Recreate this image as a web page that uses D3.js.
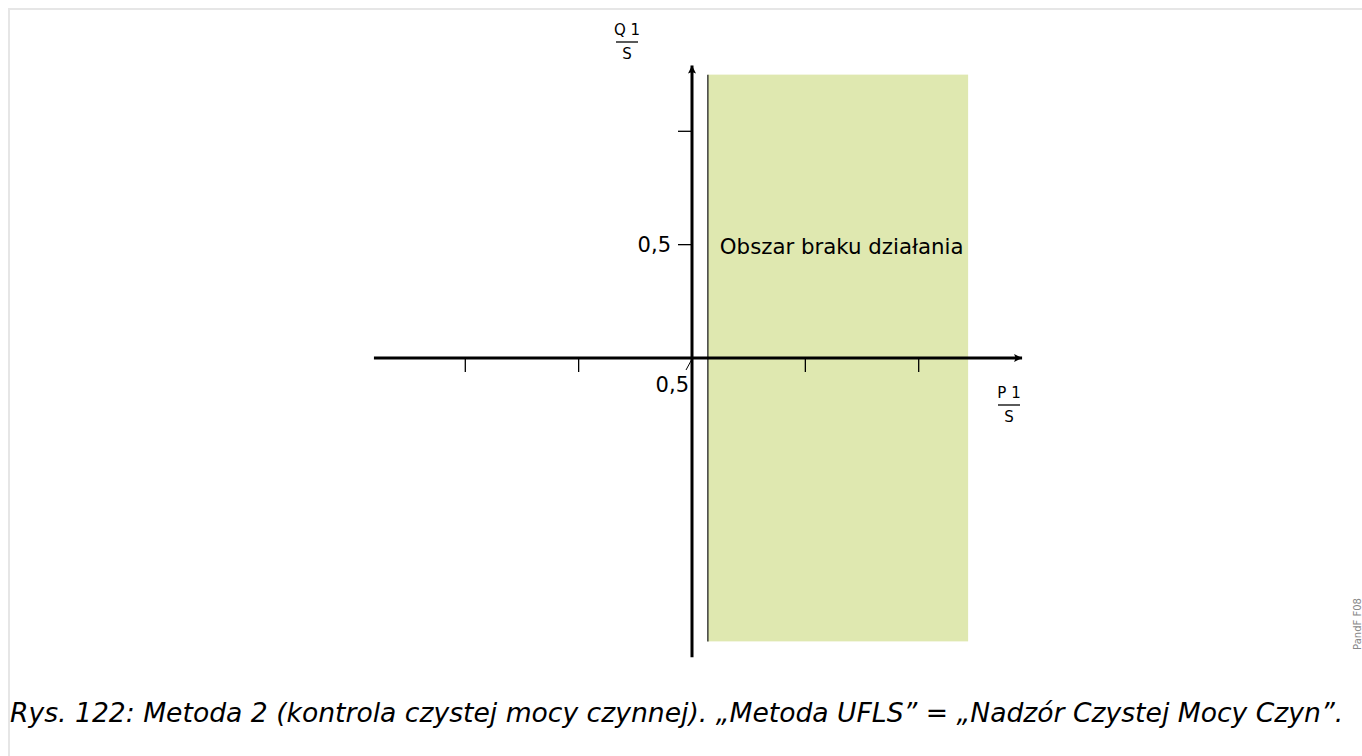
<!DOCTYPE html>
<html>
<head>
<meta charset="utf-8">
<script src="https://cdn.jsdelivr.net/npm/d3@7"></script>
<style>
html,body{margin:0;padding:0;background:#fff;}
svg{display:block;}
</style>
</head>
<body>
<svg id="chart" width="1362" height="756"></svg>
<script>
// Data
const xTicks = [-1, -0.5, 0.5, 1];
const yTicks = [0.5, 1];
const yTickLabels = ["0,5", ""];
const xAxisExtent = [-1.403, 1.456];
const yAxisExtent = [-1.32, 1.29];
const regionX = [0.07, 1.218];
const regionY = [-1.25, 1.25];
const regionLabel = "Obszar braku działania";
const originLabel = "0,5";
const caption = "Rys. 122: Metoda 2 (kontrola czystej mocy czynnej). „Metoda UFLS” = „Nadzór Czystej Mocy Czyn”.";
const watermark = "PandF F08";

const svg = d3.select("#chart");
const font = "DejaVu Sans, Verdana, sans-serif";

// frame
svg.append("path").attr("d","M9,756 V9 H1362").attr("fill","none").attr("stroke","#e6e6e6").attr("stroke-width",2);

const x = d3.scaleLinear().domain([0, 1]).range([692, 692 + 226.7]);
const y = d3.scaleLinear().domain([0, 1]).range([358, 358 - 226.7]);

// region
svg.append("rect")
  .attr("x", x(regionX[0])).attr("y", y(regionY[1]))
  .attr("width", x(regionX[1]) - x(regionX[0]))
  .attr("height", y(regionY[0]) - y(regionY[1]))
  .attr("fill", "#dfe8b0");
svg.append("line")
  .attr("x1", x(regionX[0])).attr("x2", x(regionX[0]))
  .attr("y1", y(regionY[1])).attr("y2", y(regionY[0]))
  .attr("stroke", "#222").attr("stroke-width", 1.3);

// defs arrow
const defs = svg.append("defs");
defs.append("marker").attr("id","arr").attr("viewBox","0 0 10 10").attr("refX",10).attr("refY",5)
  .attr("markerWidth",14).attr("markerHeight",8).attr("markerUnits","userSpaceOnUse").attr("orient","auto")
  .append("path").attr("d","M0,0 L10,5 L0,10 L2,5 Z").attr("fill","#000");

// axes lines
svg.append("line").attr("x1", x(xAxisExtent[0])).attr("x2", x(xAxisExtent[1]))
  .attr("y1", y(0)).attr("y2", y(0)).attr("stroke","#000").attr("stroke-width",3).attr("marker-end","url(#arr)");
svg.append("line").attr("x1", x(0)).attr("x2", x(0))
  .attr("y1", y(yAxisExtent[0])).attr("y2", y(yAxisExtent[1])).attr("stroke","#000").attr("stroke-width",3).attr("marker-end","url(#arr)");

// x ticks
svg.append("g").selectAll("line").data(xTicks).join("line")
  .attr("x1", d => x(d)).attr("x2", d => x(d))
  .attr("y1", y(0)).attr("y2", y(0) + 14)
  .attr("stroke","#000").attr("stroke-width",1.3);

// y ticks
svg.append("g").selectAll("line").data(yTicks).join("line")
  .attr("x1", x(0) - 14).attr("x2", x(0))
  .attr("y1", d => y(d)).attr("y2", d => y(d))
  .attr("stroke","#000").attr("stroke-width",1.3);
svg.append("g").selectAll("text").data(yTicks).join("text")
  .attr("x", x(0) - 21).attr("y", d => y(d)).attr("dy","0.35em")
  .attr("text-anchor","end").attr("font-family",font).attr("font-size",21)
  .text((d,i) => yTickLabels[i]);

// origin label with leader
svg.append("line").attr("x1", x(0)).attr("y1", y(0)+1).attr("x2", x(0)-6).attr("y2", y(0)+12)
  .attr("stroke","#000").attr("stroke-width",1);
svg.append("text").attr("x", x(0)-3).attr("y", y(0)+27).attr("dy","0.35em")
  .attr("text-anchor","end").attr("font-family",font).attr("font-size",21).text(originLabel);

// region label
svg.append("text").attr("x", x(regionX[0]) + 12).attr("y", y(0.5)+2).attr("dy","0.35em")
  .attr("font-family",font).attr("font-size",21.3).text(regionLabel);

// fraction labels
function frac(cx, topY, num, den){
  const g = svg.append("g").attr("font-family",font).attr("font-size",15).attr("text-anchor","middle");
  g.append("text").attr("x",cx).attr("y",topY).text(num);
  g.append("line").attr("x1",cx-11).attr("x2",cx+11).attr("y1",topY+7).attr("y2",topY+7).attr("stroke","#000").attr("stroke-width",1.3);
  g.append("text").attr("x",cx).attr("y",topY+24).text(den);
}
frac(627, 35, "Q 1", "S");
frac(1009, 398, "P 1", "S");

// watermark
svg.append("text").attr("transform","translate(1361,624) rotate(-90)")
  .attr("text-anchor","middle").attr("font-family",font).attr("font-size",10).attr("fill","#888").text(watermark);

// caption
svg.append("text").attr("x",10).attr("y",722).attr("font-family",font).attr("font-style","italic")
  .attr("font-size",26.6).attr("fill","#000").text(caption);
</script>
</body>
</html>
